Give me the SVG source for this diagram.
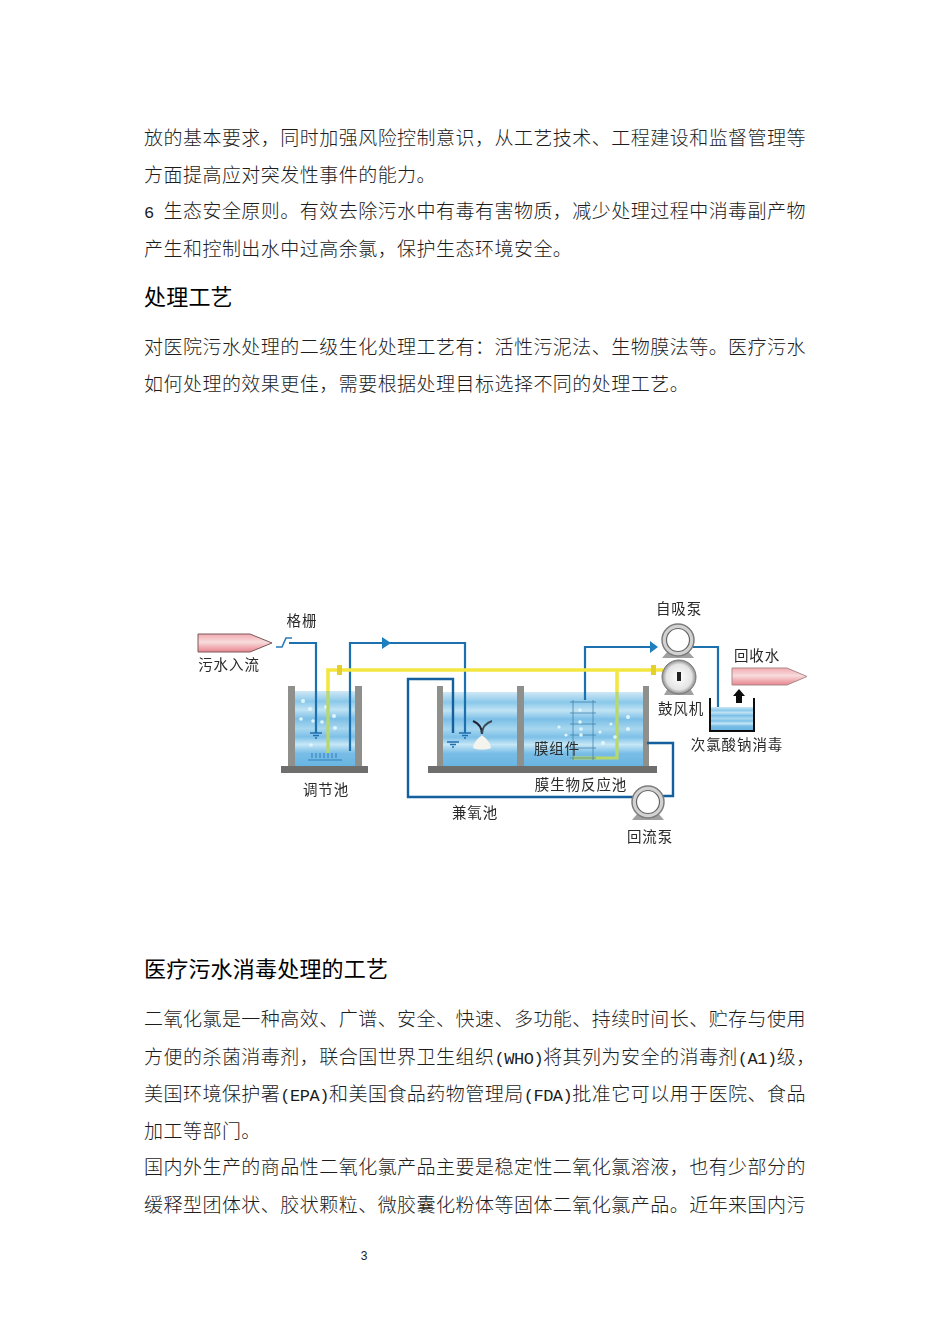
<svg xmlns="http://www.w3.org/2000/svg" width="950" height="1344" viewBox="0 0 950 1344">
<style>
.b{font-family:"Noto Sans CJK SC","Noto Sans CJK JP",sans-serif;font-size:19px;letter-spacing:.47px;font-weight:300;fill:#1c1c1c}
.h{font-family:"Noto Sans CJK SC",sans-serif;font-size:22px;letter-spacing:.2px;fill:#000}
.m{font-family:"Liberation Mono",monospace;font-size:17px;letter-spacing:-.47px;font-weight:400}
.l{font-family:"Noto Sans CJK SC",sans-serif;font-size:14.5px;letter-spacing:.9px;fill:#2a2a2a;text-anchor:middle}
.wall{fill:#8f8f8c}.base{fill:#6e6e6c}
.blue{fill:none;stroke:#1f6fae;stroke-width:2.2}
.navy{fill:none;stroke:#175f9f;stroke-width:2.4}
.yel{fill:none;stroke:#f4e640;stroke-width:3.6}
.yelw{fill:none;stroke:#b9d86a;stroke-width:3.2}
.bub{fill:#dff5fc}
.soft{filter:url(#soft)}
</style>
<defs>
<filter id="soft" x="-5%" y="-5%" width="110%" height="110%"><feGaussianBlur stdDeviation=".35"/></filter>
<linearGradient id="water" x1="0" y1="0" x2="0" y2="1">
<stop offset="0" stop-color="#cfe8f5"/><stop offset=".14" stop-color="#8ac8ea"/><stop offset=".25" stop-color="#c0e3f4"/><stop offset=".37" stop-color="#7cbfe7"/><stop offset=".5" stop-color="#a8d7ef"/><stop offset=".61" stop-color="#7dc0e8"/><stop offset=".71" stop-color="#c6e7f6"/><stop offset=".83" stop-color="#78bde6"/><stop offset="1" stop-color="#69b5e2"/>
</linearGradient>
<linearGradient id="pink" x1="0" y1="0" x2="0" y2="1">
<stop offset="0" stop-color="#f3a9b0"/><stop offset=".45" stop-color="#f7dcdc"/><stop offset="1" stop-color="#e9848f"/>
</linearGradient>
<radialGradient id="grey"><stop offset="0" stop-color="#ffffff"/><stop offset=".75" stop-color="#e4e4e4"/><stop offset="1" stop-color="#8b8b8b"/></radialGradient>
<g id="pump">
<path d="M-16 18L-10 11H10L16 18Z" fill="#a0a0a0"/>
<circle r="16" fill="#d2d2d2" stroke="#7c7c7c" stroke-width="1.5"/>
<circle r="11.500" fill="#fff" stroke="#666" stroke-width="1.2"/>
</g>
<g id="diff"><path d="M-6 0H6M-3 2.5H3M-1 5H1" fill="none" stroke="#1f6fae" stroke-width="1.4"/></g>
</defs>
<rect width="950" height="1344" fill="#fff"/>

<g id="body-text">
<text class="b" x="144" y="145">放的基本要求，同时加强风险控制意识，从工艺技术、工程建设和监督管理等</text>
<text class="b" x="144" y="182">方面提高应对突发性事件的能力。</text>
<text class="b" x="144" y="218"><tspan class="m">6 </tspan>生态安全原则。有效去除污水中有毒有害物质，减少处理过程中消毒副产物</text>
<text class="b" x="144" y="256">产生和控制出水中过高余氯，保护生态环境安全。</text>
<text class="h" x="144" y="305">处理工艺</text>
<text class="b" x="144" y="354">对医院污水处理的二级生化处理工艺有：活性污泥法、生物膜法等。医疗污水</text>
<text class="b" x="144" y="391">如何处理的效果更佳，需要根据处理目标选择不同的处理工艺。</text>
<text class="h" x="144" y="977">医疗污水消毒处理的工艺</text>
<text class="b" x="144" y="1026">二氧化氯是一种高效、广谱、安全、快速、多功能、持续时间长、贮存与使用</text>
<text class="b" x="144" y="1064">方便的杀菌消毒剂，联合国世界卫生组织<tspan class="m">(WHO)</tspan>将其列为安全的消毒剂<tspan class="m">(A1)</tspan>级，</text>
<text class="b" x="144" y="1101">美国环境保护署<tspan class="m">(EPA)</tspan>和美国食品药物管理局<tspan class="m">(FDA)</tspan>批准它可以用于医院、食品</text>
<text class="b" x="144" y="1138">加工等部门。</text>
<text class="b" x="144" y="1174">国内外生产的商品性二氧化氯产品主要是稳定性二氧化氯溶液，也有少部分的</text>
<text class="b" x="144" y="1212">缓释型团体状、胶状颗粒、微胶囊化粉体等固体二氧化氯产品。近年来国内污</text>
<text x="364" y="1260" font-family="Liberation Sans, sans-serif" font-size="12" text-anchor="middle" fill="#222">3</text>
</g>

<g id="tank-adjust" class="soft">
<rect x="295" y="691" width="60" height="75" fill="url(#water)"/>
<rect class="wall" x="288" y="686" width="7" height="80"/>
<rect class="wall" x="355" y="686" width="7" height="80"/>
<rect class="base" x="281" y="766" width="87" height="7"/>
<path d="M312 753V758M316 753V758M320 753V758M324 753V758M328 753V758M332 753V758M336 753V758M308 760H342" stroke="#2a7fbd" stroke-width="1" fill="none"/>
<g class="bub"><circle cx="303" cy="701" r="2"/><circle cx="310" cy="709" r="2"/><circle cx="326" cy="707" r="2"/><circle cx="334" cy="716" r="2"/><circle cx="301" cy="719" r="1.8"/><circle cx="313" cy="721" r="1.8"/><circle cx="322" cy="722" r="1.8"/><circle cx="335" cy="728" r="2"/><circle cx="311" cy="745" r="1.8"/></g>
<text class="l" x="326" y="795">调节池</text>
</g>

<g id="tank-anoxic-mbr" class="soft">
<rect x="443" y="692" width="200" height="74" fill="url(#water)"/>
<rect class="wall" x="437" y="686" width="6" height="80"/>
<rect class="wall" x="517" y="686" width="7" height="80"/>
<rect class="wall" x="643" y="686" width="6" height="80"/>
<rect class="base" x="428" y="766" width="229" height="7"/>
<text class="l" x="475" y="818">兼氧池</text>
<text class="l" x="581" y="790">膜生物反应池</text>
</g>

<g id="connectors" class="soft">
<path class="blue" d="M289 643H316V733"/>
<path d="M276 647H282L286 638H292" fill="none" stroke="#2a7ab8" stroke-width="1.6"/>
<path class="blue" d="M350 751V643H465V733"/>
<path class="navy" d="M453 733V679H408V797H633M663 796H673V743H647"/>
<path class="blue" d="M585 700V647H650M693 647H718V707"/>
<path class="yel" d="M328 691V670H663"/>
<path class="yel" d="M617 670V692"/>
<path class="yelw" d="M328 691V753"/>
<path class="yelw" d="M617 692V758H571"/>
<path d="M337 665h5v10h-5z M651 665h5v10h-5z" fill="#e6cf2a"/>
<path d="M382 637V649L391 643Z M650 641V653L658 647Z" fill="#1f7fc0"/>
<use href="#diff" x="316" y="733"/>
<use href="#diff" x="465" y="733"/>
<use href="#diff" x="453" y="742"/>
</g>

<g id="aerator" class="soft">
<path d="M473 748C474 741 479 738 482 735C485 738 490 741 491 748C486 750 478 750 473 748Z" fill="#f4f3ee"/>
<path d="M482 734C482 727 478 723 473 721" fill="none" stroke="#223" stroke-width="2.2"/>
<path d="M482 734C482 727 486 723 492 721" fill="none" stroke="#3a4a58" stroke-width="2"/>
</g>

<g id="membrane" class="soft">
<path d="M570 702H596M570 713H596M570 724H596M570 735H596M570 748H596M570 758H596M573 700V760M593 700V760" stroke="#3f7fa8" stroke-width="1" fill="none" opacity=".75"/>
<g class="bub"><circle cx="580" cy="710" r="1.8"/><circle cx="580" cy="722" r="1.8"/><circle cx="581" cy="729" r="1.8"/><circle cx="581" cy="735" r="1.8"/><circle cx="559" cy="727" r="1.6"/><circle cx="566" cy="735" r="1.6"/><circle cx="600" cy="732" r="1.6"/><circle cx="611" cy="724" r="1.6"/><circle cx="615" cy="737" r="1.8"/><circle cx="603" cy="743" r="2"/><circle cx="628" cy="717" r="2"/><circle cx="628" cy="729" r="2"/></g>
<text class="l" x="557" y="754">膜组件</text>
</g>

<g id="inflow" class="soft">
<path d="M198 634H250L272 643L250 652H198Z" fill="url(#pink)" stroke="#7a5a5a" stroke-width="1"/>
<text class="l" x="229" y="670">污水入流</text>
</g>
<g id="screen" class="soft"><text class="l" x="302" y="626">格栅</text></g>
<g id="pump-self" class="soft"><use href="#pump" x="678" y="640"/><text class="l" x="679" y="614">自吸泵</text></g>
<g id="blower" class="soft">
<path d="M664 695L668 688H690L694 695Z" fill="#a0a0a0"/>
<circle cx="679" cy="677" r="17" fill="url(#grey)" stroke="#777"/>
<rect x="677" y="672" width="4" height="9" fill="#222"/>
<text class="l" x="681" y="714">鼓风机</text>
</g>
<g id="pump-return" class="soft"><use href="#pump" x="648" y="802"/><text class="l" x="650" y="842">回流泵</text></g>
<g id="disinfect" class="soft">
<rect x="711" y="707" width="42" height="23" fill="url(#water)"/>
<path d="M710 698V731H754V698" fill="none" stroke="#111" stroke-width="2"/>
<path d="M739 689L745 696H742V703H736V696H733Z" fill="#111"/>
<text class="l" x="737" y="750">次氯酸钠消毒</text>
</g>
<g id="outflow" class="soft">
<path d="M732 668H787L807 676.500L787 685H732Z" fill="url(#pink)" stroke="#a98a8a" stroke-width="1"/>
<text class="l" x="757" y="661">回收水</text>
</g>
</svg>
